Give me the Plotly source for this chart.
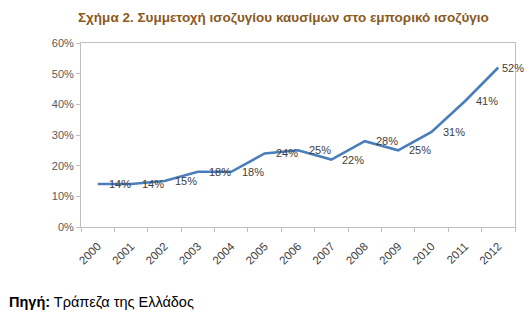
import plotly.graph_objects as go

years = ["2000", "2001", "2002", "2003", "2004", "2005", "2006",
         "2007", "2008", "2009", "2010", "2011", "2012"]
share = [0.14, 0.14, 0.15, 0.18, 0.18, 0.24, 0.25, 0.22, 0.28, 0.25, 0.31, 0.41, 0.52]
labels = ["14%", "14%", "15%", "18%", "18%", "24%", "25%", "22%", "28%", "25%", "31%", "41%", "52%"]

title_text = "Σχήμα 2. Συμμετοχή ισοζυγίου καυσίμων στο εμπορικό ισοζύγιο"
source_bold = "Πηγή:"
source_text = "Τράπεζα της Ελλάδος"

FONT = "Liberation Sans, Arial, sans-serif"
W, H = 531, 324
ML, MR, MT, MB = 81, 16, 43, 97
PW, PH = W - ML - MR, H - MT - MB


def px_to_paper(px_x, px_y):
    return (px_x - ML) / PW, ((H - px_y) - MB) / PH


fig = go.Figure()
fig.add_trace(go.Scatter(
    x=years, y=share, mode="lines",
    line=dict(color="#4A7EBB", width=2.6),
    hoverinfo="skip", showlegend=False,
))

annotations = []
n = len(years)
for i, (v, t) in enumerate(zip(share, labels)):
    annotations.append(dict(
        x=i, y=v, xref="x", yref="y", text=t, showarrow=False,
        xanchor="left", yanchor="middle", xshift=9 if i < n - 1 else 2,
        font=dict(family=FONT, size=11, color="#404040"),
    ))

tx, ty = px_to_paper(283.5, 18)
annotations.append(dict(
    x=tx, y=ty, xref="paper", yref="paper",
    xanchor="center", yanchor="middle", showarrow=False,
    text="<b>" + title_text + "</b>",
    font=dict(family=FONT, size=13.5, color="#8B5A1E"),
))
sx, sy = px_to_paper(7, 302)
annotations.append(dict(
    x=sx, y=sy, xref="paper", yref="paper",
    xanchor="left", yanchor="middle", showarrow=False,
    text="<b>" + source_bold + "</b> " + source_text,
    font=dict(family=FONT, size=14.5, color="#000000"),
))

fig.update_layout(
    width=W, height=H,
    margin=dict(l=ML, r=MR, t=MT, b=MB, autoexpand=False),
    paper_bgcolor="white", plot_bgcolor="white",
    annotations=annotations,
    xaxis=dict(
        type="category", tickson="boundaries", ticks="outside", ticklen=4,
        tickcolor="#bfbfbf", showline=True, linecolor="#bfbfbf", linewidth=1,
        mirror=True, showgrid=False, tickangle=-45, ticklabelstandoff=7,
        tickfont=dict(family=FONT, size=11.5, color="#404040"),
        range=[-0.5, n - 0.5], fixedrange=True,
    ),
    yaxis=dict(
        range=[0, 0.6], dtick=0.1, tickformat=".0%", ticks="outside", ticklen=4,
        tickcolor="#bfbfbf", showline=True, linecolor="#bfbfbf", linewidth=1,
        mirror=True, showgrid=False, zeroline=False,
        tickfont=dict(family=FONT, size=11, color="#595959"),
        fixedrange=True,
    ),
)

fig.write_html("out.html")
